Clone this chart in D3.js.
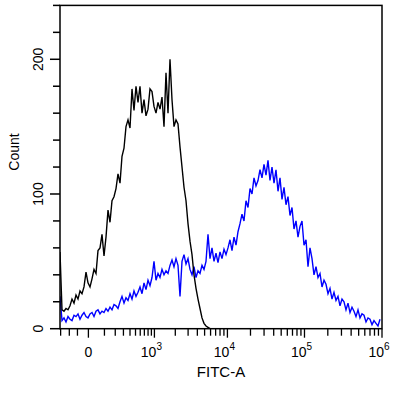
<!DOCTYPE html>
<html>
<head>
<meta charset="utf-8">
<script src="https://cdn.jsdelivr.net/npm/d3@7"></script>
<style>
  html, body { margin: 0; padding: 0; background: #fff; }
  svg { display: block; }
  text { font-family: "Liberation Sans", Arial, sans-serif; fill: #000; }
</style>
</head>
<body>
<svg id="chart" width="406" height="394"></svg>
<script>
// ---- data (histogram counts, one per display channel, left to right) ----
const channelCount = 161;
const controlCounts = [
  57,14,13,15,14,17,22,19,25,22,28,26,31,42,34,31,37,44,41,58,
  60,70,54,68,88,79,95,98,104,115,108,128,134,150,155,149,178,162,180,168,
  180,160,170,158,163,178,176,165,160,168,163,172,150,190,160,200,170,150,155,152,
  135,120,105,95,78,65,55,40,30,22,15,8,4,2,1,0,0,0,0,0,
  0,0,0,0,0,0,0,0,0,0,0,0,0,0,0,0,0,0,0,0,
  0,0,0,0,0,0,0,0,0,0,0,0,0,0,0,0,0,0,0,0,
  0,0,0,0,0,0,0,0,0,0,0,0,0,0,0,0,0,0,0,0,
  0,0,0,0,0,0,0,0,0,0,0,0,0,0,0,0,0,0,0,0,0
];
const stainedCounts = [
  24,6,8,5,9,7,6,10,9,11,7,10,12,9,8,11,12,9,13,14,
  11,13,12,15,13,16,14,18,17,15,20,24,19,23,21,26,22,28,24,27,
  31,26,34,29,36,32,38,50,36,41,38,44,40,43,41,47,51,46,52,47,
  24,50,55,48,52,44,40,46,38,43,41,47,44,50,70,52,60,50,56,49,
  57,52,59,55,60,66,58,68,62,72,78,85,80,95,90,104,100,112,106,110,
  118,112,122,114,125,110,120,108,118,102,112,96,105,92,98,84,90,74,80,68,
  76,80,62,66,46,60,52,40,46,38,41,31,36,33,26,30,22,27,21,24,
  17,22,20,14,19,12,16,13,9,14,8,11,10,5,8,7,3,6,4,2,7
];
const xMajorTicks = [0, 1e3, 1e4, 1e5, 1e6];
const xMajorLabels = ["0", "3", "4", "5", "6"];
const xMinorTicks = [-210, -125, -63,
  100,200,300,400,500,600,700,800,900,
  2e3,3e3,4e3,5e3,6e3,7e3,8e3,9e3,
  2e4,3e4,4e4,5e4,6e4,7e4,8e4,9e4,
  2e5,3e5,4e5,5e5,6e5,7e5,8e5,9e5];
const yMajorTicks = [0, 100, 200];
const yMinorTicks = [20,40,60,80,120,140,160,180,220,240];
const xTitle = "FITC-A";
const yTitle = "Count";

// ---- layout ----
const padL = 60, padR = 382, padT = 5.4, padB = 328.7;
const svg = d3.select("#chart");

const xScale = d3.scaleSymlog().constant(164).domain([-217, 1e6]).range([padL, padR]);
const chScale = d3.scaleLinear().domain([0, channelCount - 1]).range([padL, padL + 2 * (channelCount - 1)]);
const yScale = d3.scaleLinear().domain([0, 240]).range([padB, padT]);

svg.append("defs").append("clipPath").attr("id", "clip")
  .append("rect").attr("x", padL).attr("y", padT - 1).attr("width", padR - padL).attr("height", padB - padT + 1);

const line = d3.line().x((d, i) => chScale(i)).y(d => yScale(d));

const plot = svg.append("g").attr("clip-path", "url(#clip)");
plot.append("path").datum(stainedCounts)
  .attr("d", line).attr("fill", "none").attr("stroke", "#0000ff").attr("stroke-width", 1.4);
plot.append("path").datum(controlCounts)
  .attr("d", line).attr("fill", "none").attr("stroke", "#000000").attr("stroke-width", 1.4);

// frame
svg.append("rect").attr("x", padL).attr("y", padT).attr("width", padR - padL).attr("height", padB - padT)
  .attr("fill", "none").attr("stroke", "#000").attr("stroke-width", 1.5);

// y ticks
const yg = svg.append("g");
yg.selectAll("line.ymin").data(yMinorTicks).join("line")
  .attr("x1", padL - 7).attr("x2", padL).attr("y1", d => yScale(d)).attr("y2", d => yScale(d))
  .attr("stroke", "#000").attr("stroke-width", 1.5);
yg.selectAll("line.ymaj").data(yMajorTicks).join("line")
  .attr("x1", padL - 10).attr("x2", padL).attr("y1", d => yScale(d)).attr("y2", d => yScale(d))
  .attr("stroke", "#000").attr("stroke-width", 1.5);
yg.selectAll("text").data(yMajorTicks).join("text")
  .attr("transform", d => `translate(43,${yScale(d)}) rotate(-90)`)
  .attr("text-anchor", "middle").attr("font-size", 14).text(d => d);

// x ticks
const xg = svg.append("g");
xg.selectAll("line.xmin").data(xMinorTicks).join("line")
  .attr("x1", d => xScale(d)).attr("x2", d => xScale(d)).attr("y1", padB).attr("y2", padB + 7)
  .attr("stroke", "#000").attr("stroke-width", 1.3);
xg.selectAll("line.xmaj").data(xMajorTicks).join("line")
  .attr("x1", d => xScale(d)).attr("x2", d => xScale(d)).attr("y1", padB).attr("y2", padB + 9)
  .attr("stroke", "#000").attr("stroke-width", 1.3);
xMajorTicks.forEach((v, i) => {
  const t = xg.append("text").attr("y", 357).attr("font-size", 14).attr("text-anchor", "middle");
  if (v === 0) {
    t.attr("x", xScale(v)).text("0");
  } else {
    t.attr("x", xScale(v) - 3);
    t.append("tspan").text("10");
    t.append("tspan").attr("dy", -7).attr("font-size", 10).text(xMajorLabels[i]);
  }
});

// axis titles
svg.append("text").attr("x", 221).attr("y", 377).attr("text-anchor", "middle")
  .attr("font-size", 15).text(xTitle);
svg.append("text").attr("transform", "translate(19,152) rotate(-90)")
  .attr("text-anchor", "middle").attr("font-size", 14).text(yTitle);
</script>
</body>
</html>
